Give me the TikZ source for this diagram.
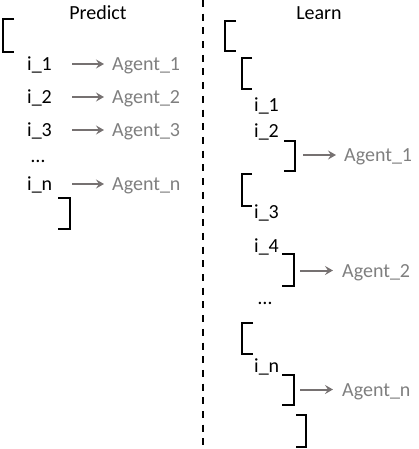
\documentclass[tikz,border=0pt]{standalone}
\usepackage{fontspec}
\setmainfont{Carlito}
\usetikzlibrary{arrows.meta}
\definecolor{agentgray}{HTML}{7F7F7F}
\definecolor{arrowgray}{HTML}{767171}
\newcommand\lbrk[4]{\draw[brk] (#3,#2) -- (#1,#2) -- (#1,#4) -- (#3,#4);}
\newcommand\rbrk[4]{\draw[brk] (#3,#2) -- (#1,#2) -- (#1,#4) -- (#3,#4);}
\begin{document}
\begin{tikzpicture}[x=1pt,y=-1pt,
  txt/.style={inner sep=0pt,anchor=base west,font=\fontsize{20}{24}\selectfont},
  agent/.style={txt,text=agentgray},
  title/.style={inner sep=0pt,anchor=base,font=\fontsize{20}{24}\selectfont},
  brk/.style={line width=2.4pt,line cap=butt,line join=miter},
  arr/.style={draw=arrowgray,line width=2pt,-{Stealth[length=8pt,width=9pt,inset=3pt]}},
  sep/.style={line width=2pt,dash pattern=on 7pt off 6.7pt}]
\useasboundingbox (0,0) rectangle (418,449);
% separator
\coordinate (st) at (202.5,0);
\coordinate (sb) at (202.5,449);
\draw[sep] (st) -- (sb);
% titles
\node[title] (predict) at (98,20) {Predict};
\node[title] (learn) at (319,20) {Learn};
% ---- left panel ----
\lbrk{3.2}{19.2}{14}{51.8}
\rbrk{69.8}{198.2}{58}{228.8}
\node[txt] (li1) at (27,70.5) {i\_1};
\node[txt] (li2) at (27,103.5) {i\_2};
\node[txt] (li3) at (27,136.5) {i\_3};
\node[txt] (ldots) at (31,162) {\dots};
\node[txt] (lin) at (27,190.5) {i\_n};
\node[agent] (la1) at (112,70.5) {Agent\_1};
\node[agent] (la2) at (112,103.5) {Agent\_2};
\node[agent] (la3) at (112,136.5) {Agent\_3};
\node[agent] (lan) at (112,190.5) {Agent\_n};
\foreach \i/\a in {li1/la1,li2/la2,li3/la3,lin/lan}{
  \draw[arr] ([yshift=6.5pt]\i.base east -| 72,0) -- ([xshift=-8pt,yshift=6.5pt]\a.base west);
}
% ---- right panel ----
\lbrk{225.2}{21.2}{236}{50.8}
\lbrk{242.2}{58.2}{252}{88.8}
\rbrk{294.8}{141.2}{284}{170.8}
\lbrk{242.2}{174.2}{252}{205.8}
\rbrk{293.8}{254.2}{282}{285.8}
\lbrk{242.2}{323.2}{253}{353.8}
\rbrk{293.8}{375.2}{282}{404.8}
\rbrk{305.8}{415.2}{296}{446.8}
\node[txt] (ri1) at (254,112) {i\_1};
\node[txt] (ri2) at (254,138) {i\_2};
\node[txt] (ri3) at (254,218) {i\_3};
\node[txt] (ri4) at (254,252) {i\_4};
\node[txt] (rdots) at (258,304) {\dots};
\node[txt] (rin) at (254,372) {i\_n};
\node[agent] (ra1) at (344,161) {Agent\_1};
\node[agent] (ra2) at (342,277) {Agent\_2};
\node[agent] (ran) at (342,396) {Agent\_n};
\coordinate (b1) at (303,155);
\coordinate (b2) at (300,270.5);
\coordinate (b3) at (300,389.5);
\draw[arr] (b1) -- ([xshift=-8pt]ra1.west |- b1);
\draw[arr] (b2) -- ([xshift=-9pt]ra2.west |- b2);
\draw[arr] (b3) -- ([xshift=-9pt]ran.west |- b3);
\end{tikzpicture}
\end{document}
